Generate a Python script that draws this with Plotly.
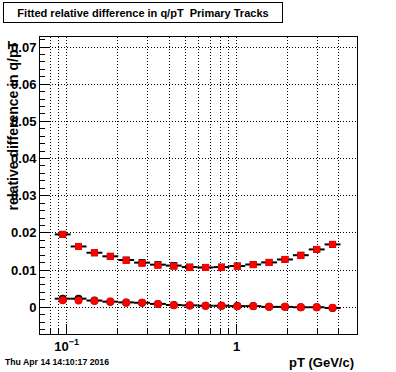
import plotly.graph_objects as go

# ---- data ----
bin_edges = [0.0851, 0.1055, 0.1308, 0.1622, 0.2011, 0.2493, 0.3092, 0.3834, 0.4753,
             0.5894, 0.7307, 0.9062, 1.1237, 1.3932, 1.7275, 2.1419, 2.6564, 3.2930, 4.0832]
pt_centers = [0.0947, 0.1174, 0.1456, 0.1806, 0.2239, 0.2777, 0.3442, 0.4270, 0.5294,
              0.6565, 0.8141, 1.0092, 1.2515, 1.5516, 1.9240, 2.3857, 2.9580, 3.6670]

sigma_red = [0.0196, 0.01635, 0.01466, 0.01367, 0.0126, 0.0118, 0.01126, 0.0110, 0.0107,
             0.0107, 0.0107, 0.0110, 0.01145, 0.01206, 0.01287, 0.0139, 0.01555, 0.0169]
sigma_black = [0.0196, 0.01635, 0.01466, 0.01370, 0.0127, 0.0120, 0.01145, 0.0112, 0.0108,
               0.0107, 0.0108, 0.0111, 0.01150, 0.01206, 0.01285, 0.0140, 0.01555, 0.0169]
mean_red = [0.00188, 0.0018, 0.0017, 0.00153, 0.0012, 0.0012, 0.0009, 0.00054, 0.00054,
            0.00037, 0.00037, 0.00027, 0.00027, 0.0001, 0.0001, 0.0, 0.0, -0.00016]
mean_black = [0.0023, 0.0023, 0.0018, 0.0015, 0.0013, 0.0012, 0.0009, 0.0006, 0.0005,
              0.0004, 0.0004, 0.0003, 0.0003, 0.0001, 0.0001, 0.0, 0.0, -0.0002]

x_minor_ticks = [0.08, 0.09, 0.2, 0.3, 0.4, 0.5, 0.6, 0.7, 0.8, 0.9, 2, 3, 4]
x_major_ticks = [0.1, 1]
x_major_text = ["10<sup>\u22121</sup>", "1"]
y_ticks = [0, 0.01, 0.02, 0.03, 0.04, 0.05, 0.06, 0.07]

title = "Fitted relative difference in q/pT\u00a0 Primary Tracks"
ytitle = "relative difference in q/pT"
xtitle = "pT (GeV/c)"
datestr = "Thu Apr 14 14:10:17 2016"

# ---- geometry ----
W, H = 396, 372
L, R, T, B = 40, 39, 37, 37.5
pw, ph = W - L - R, H - T - B

def px(x):
    return (x - L) / pw

def py(y):
    return (H - B - y) / ph

err_plus = [hi - c for hi, c in zip(bin_edges[1:], pt_centers)]
err_minus = [c - lo for lo, c in zip(bin_edges[:-1], pt_centers)]

FONT = "Liberation Sans"
DOT = "1px,2px"
fig = go.Figure()

for vals, sym in [(sigma_black, "square"), (mean_black, "circle")]:
    fig.add_trace(go.Scatter(
        x=pt_centers, y=vals, mode="markers",
        marker=dict(symbol=sym, color="black", size=7 if sym == "square" else 8, line=dict(width=0)),
        error_x=dict(type="data", symmetric=False, array=err_plus, arrayminus=err_minus,
                     color="black", thickness=2, width=0),
        showlegend=False, hoverinfo="skip"))

for vals, sym in [(sigma_red, "square"), (mean_red, "circle")]:
    fig.add_trace(go.Scatter(
        x=pt_centers, y=vals, mode="markers",
        marker=dict(symbol=sym, color="#ff0000", size=7 if sym == "square" else 8, line=dict(width=0)),
        showlegend=False, hoverinfo="skip"))

fig.update_layout(
    width=W, height=H,
    margin=dict(l=L, r=R, t=T, b=B, pad=0),
    paper_bgcolor="white", plot_bgcolor="white",
    font=dict(family=FONT, color="black"),
    xaxis=dict(
        type="log", range=[-1.157, 0.708],
        tickmode="array", tickvals=x_major_ticks, ticktext=x_major_text,
        ticks="inside", ticklen=10, tickcolor="black", tickwidth=1,
        showgrid=True, gridcolor="black", griddash=DOT, gridwidth=1,
        minor=dict(tickmode="array", tickvals=x_minor_ticks, ticks="inside", ticklen=6,
                   tickcolor="black", showgrid=True, gridcolor="black", griddash=DOT, gridwidth=1),
        showline=True, linecolor="black", linewidth=1, mirror=True,
        tickfont=dict(family=FONT, size=13, weight="bold"),
        zeroline=False,
    ),
    yaxis=dict(
        range=[-0.0072, 0.0727],
        tickmode="array", tickvals=y_ticks,
        ticks="inside", ticklen=9, tickcolor="black", tickwidth=1,
        showgrid=True, gridcolor="black", griddash=DOT, gridwidth=1,
        minor=dict(dtick=0.002, tick0=0, ticks="inside", ticklen=5, tickcolor="black", showgrid=False),
        showline=True, linecolor="black", linewidth=1, mirror=True,
        tickfont=dict(family=FONT, size=13, weight="bold"),
        zeroline=False,
    ),
)

fig.add_annotation(
    x=px(3.3), y=py(1.7), xref="paper", yref="paper", xanchor="left", yanchor="top",
    text=title, showarrow=False, width=272, height=13, borderpad=3,
    bordercolor="black", borderwidth=1, bgcolor="white", align="center",
    font=dict(family=FONT, size=11, weight="bold", color="black"))

fig.add_annotation(
    x=px(12.5), y=py(39), xref="paper", yref="paper", xanchor="center", yanchor="top",
    text=ytitle, textangle=-90, showarrow=False,
    font=dict(family=FONT, size=14, weight="bold", color="black"))

fig.add_annotation(
    x=px(356), y=py(363), xref="paper", yref="paper", xanchor="right", yanchor="middle",
    text=xtitle, showarrow=False,
    font=dict(family=FONT, size=13, weight="bold", color="black"))

fig.add_annotation(
    x=px(3), y=py(362.5), xref="paper", yref="paper", xanchor="left", yanchor="middle",
    text=datestr, showarrow=False,
    font=dict(family=FONT, size=8.7, weight="bold", color="black"))

fig.write_html("out.html", config={"displayModeBar": False},
               post_script="document.body.style.margin='0';")
